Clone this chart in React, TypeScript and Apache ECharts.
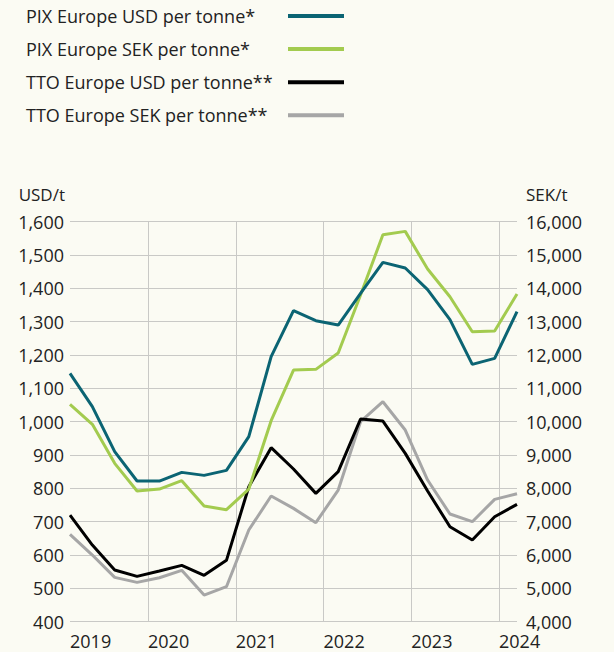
import React, { useEffect, useRef } from "react";
import * as echarts from "echarts";

const periods = [
  "2019-02", "2019-05", "2019-08", "2019-11",
  "2020-02", "2020-05", "2020-08", "2020-11",
  "2021-02", "2021-05", "2021-08", "2021-11",
  "2022-02", "2022-05", "2022-08", "2022-11",
  "2023-02", "2023-05", "2023-08", "2023-11",
  "2024-02",
];

const pixUsd = [1145, 1045, 910, 822, 822, 848, 839, 854, 955, 1195, 1333, 1303, 1290, 1385, 1478, 1461, 1396, 1306, 1172, 1190, 1330];
const pixSek = [10520, 9920, 8750, 7920, 7980, 8230, 7470, 7360, 7980, 10030, 11550, 11570, 12060, 13800, 15610, 15710, 14580, 13750, 12700, 12720, 13830];
const ttoUsd = [720, 630, 555, 536, 552, 569, 539, 584, 805, 922, 858, 785, 850, 1008, 1002, 905, 792, 685, 645, 715, 752];
const ttoSek = [6620, 6000, 5330, 5180, 5320, 5540, 4800, 5050, 6750, 7770, 7400, 6970, 7950, 10000, 10600, 9750, 8250, 7230, 7000, 7670, 7840];

const seriesNames = [
  "PIX Europe USD per tonne*",
  "PIX Europe SEK per tonne*",
  "TTO Europe USD per tonne**",
  "TTO Europe SEK per tonne**",
];
const seriesColors = ["#0b6473", "#a3cb4f", "#000000", "#a6a6a6"];

const yearLabels = ["2019", "2020", "2021", "2022", "2023", "2024"];
const yearAxisMin = 2019.111;
const yearAxisMax = 2024.205;

const FONT = "Open Sans";
const TEXT = "#222222";
const GRID = "#c9c9c6";

export default function App() {
  const ref = useRef<HTMLDivElement>(null);

  useEffect(() => {
    if (!ref.current) return;
    const chart = echarts.init(ref.current, undefined, { renderer: "svg" });
    const fmt = (v: number) => v.toLocaleString("en-US");
    const mk = (i: number, data: number[], yIdx: number, z: number) => ({
      name: seriesNames[i],
      type: "line",
      xAxisIndex: 0,
      yAxisIndex: yIdx,
      data,
      symbol: "none",
      z,
      itemStyle: { color: seriesColors[i] },
      lineStyle: { color: seriesColors[i], width: 3 },
    });
    chart.setOption({
      animation: false,
      backgroundColor: "#fbfbf3",
      textStyle: { fontFamily: FONT, color: TEXT },
      legend: {
        orient: "vertical",
        left: 21,
        top: 2,
        align: "right",
        itemWidth: 56,
        itemHeight: 4,
        itemGap: 15.1,
        icon: "rect",
        data: seriesNames,
        formatter: (name: string) => `{t|${name}}`,
        textStyle: {
          rich: {
            t: {
              width: 257,
              align: "left",
              fontFamily: FONT,
              fontSize: 18,
              lineHeight: 22,
              color: TEXT,
            },
          },
        },
      },
      grid: { left: 70, right: 97, top: 221.7, bottom: 30.3, containLabel: false },
      xAxis: [
        {
          type: "category",
          data: periods,
          boundaryGap: false,
          show: false,
        },
        {
          type: "value",
          position: "bottom",
          min: yearAxisMin,
          max: yearAxisMax,
          axisLine: { show: false },
          axisTick: { show: false },
          splitLine: {
            show: true,
            showMinLine: false,
            showMaxLine: false,
            lineStyle: { color: GRID, width: 1 },
          },
          axisLabel: {
            showMinLabel: true,
            showMaxLabel: false,
            align: "left",
            margin: 10,
            lineHeight: 18,
            fontFamily: FONT,
            fontSize: 18,
            color: TEXT,
            formatter: (v: number) => yearLabels[Math.floor(v + 1e-6) - 2019] ?? "",
          },
        },
      ],
      yAxis: [
        {
          type: "value",
          position: "left",
          min: 400,
          max: 1600,
          interval: 100,
          name: "USD/t",
          nameLocation: "end",
          nameGap: 27,
          nameTextStyle: {
            fontFamily: FONT,
            fontSize: 17,
            color: TEXT,
            align: "right",
            verticalAlign: "middle",
            padding: [0, 5, 0, 0],
          },
          axisLine: { show: false },
          axisTick: { show: false },
          splitLine: { show: true, lineStyle: { color: GRID, width: 1 } },
          axisLabel: { margin: 6, fontFamily: FONT, fontSize: 18, color: TEXT, formatter: fmt },
        },
        {
          type: "value",
          position: "right",
          min: 4000,
          max: 16000,
          interval: 1000,
          name: "SEK/t",
          nameLocation: "end",
          nameGap: 27,
          nameTextStyle: {
            fontFamily: FONT,
            fontSize: 17,
            color: TEXT,
            align: "left",
            verticalAlign: "middle",
            padding: [0, 0, 0, 9],
          },
          axisLine: { show: false },
          axisTick: { show: false },
          splitLine: { show: false },
          axisLabel: { margin: 9, fontFamily: FONT, fontSize: 18, lineHeight: 16, color: TEXT, formatter: fmt },
        },
      ],
      series: [
        mk(0, pixUsd, 0, 4),
        mk(1, pixSek, 1, 3),
        mk(2, ttoUsd, 0, 2),
        mk(3, ttoSek, 1, 1),
      ],
    });
    return () => chart.dispose();
  }, []);

  return (
    <div
      ref={ref}
      style={{ position: "fixed", left: 0, top: 0, width: 614, height: 652 }}
    />
  );
}
